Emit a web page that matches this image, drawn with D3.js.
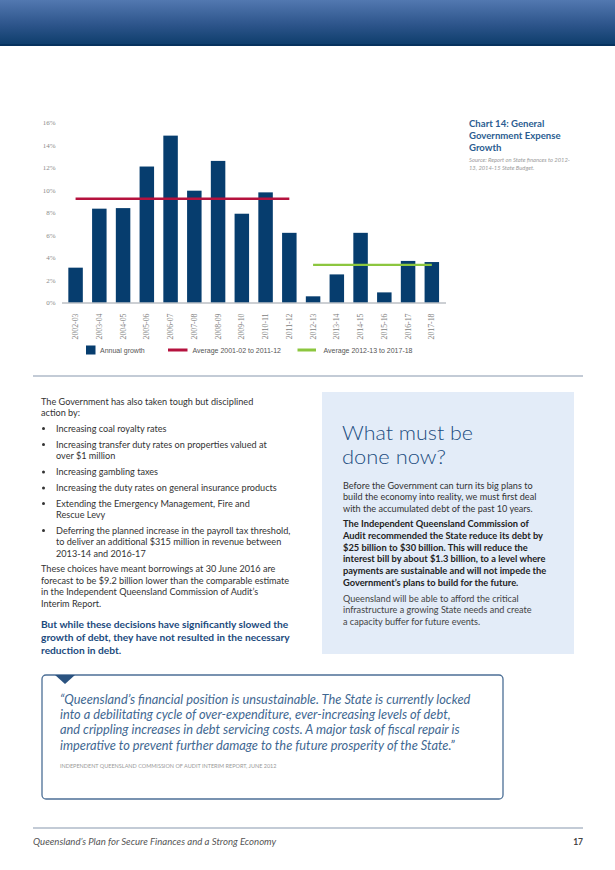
<!DOCTYPE html>
<html><head><meta charset="utf-8">
<script src="https://cdn.jsdelivr.net/npm/d3@7"></script>
<style>
html,body{margin:0;padding:0;background:#fff;}
svg{display:block;}
</style></head>
<body>
<script>
const categories = ["2002-03","2003-04","2004-05","2005-06","2006-07","2007-08","2008-09","2009-10","2010-11","2011-12","2012-13","2013-14","2014-15","2015-16","2016-17","2017-18"];
const annualGrowth = [3.1, 8.35, 8.4, 12.1, 14.85, 9.95, 12.6, 7.9, 9.8, 6.2, 0.55, 2.5, 6.2, 0.9, 3.7, 3.6];
const averageEarly = 9.23;   // Average 2001-02 to 2011-12
const averageEarlyRange = ["2002-03","2011-12"];
const averageLate = 3.34;    // Average 2012-13 to 2017-18
const averageLateRange = ["2012-13","2017-18"];
const yTicks = [0,2,4,6,8,10,12,14,16];
const legendLabels = ["Annual growth","Average 2001-02 to 2011-12","Average 2012-13 to 2017-18"];

const W = 615, H = 870;
const svg = d3.select("body").append("svg").attr("width", W).attr("height", H);
const defs = svg.append("defs");
const grad = defs.append("linearGradient").attr("id","hdr").attr("x1",0).attr("y1",0).attr("x2",0).attr("y2",1);
grad.append("stop").attr("offset","0%").attr("stop-color","#5278b0");
grad.append("stop").attr("offset","55%").attr("stop-color","#2c548a");
grad.append("stop").attr("offset","100%").attr("stop-color","#0c3c6a");

// Header band
svg.append("rect").attr("x",0).attr("y",0).attr("width",W).attr("height",46).attr("fill","url(#hdr)");
svg.append("rect").attr("x",0).attr("y",44).attr("width",W).attr("height",2).attr("fill","#07325e");

// ---------- Chart ----------
const BAR = "#063d6e", RED = "#b5123e", GREEN = "#8cc63f";
const x = d3.scaleBand().domain(categories).range([63.7, 443.7]).paddingInner(0.39).paddingOuter(0.195);
const y = d3.scaleLinear().domain([0,16]).range([302.5, 122.7]);
const g = svg.append("g");

// y axis labels
const yAxis = d3.axisLeft(y).tickValues(yTicks).tickFormat(d => d + "%").tickSize(0).tickPadding(0);
const ya = g.append("g").attr("transform","translate(55.5,0)").call(yAxis);
ya.select(".domain").remove();
ya.selectAll("text").attr("font-family","'Liberation Serif', serif").attr("font-size",7).attr("fill","#8a8a8a");

// bars
g.selectAll("rect.bar").data(annualGrowth).join("rect").attr("class","bar")
  .attr("x",(d,i)=>x(categories[i])).attr("width",x.bandwidth())
  .attr("y",d=>y(d)).attr("height",d=>y(0)-y(d)).attr("fill",BAR);

// baseline
g.append("line").attr("x1",62).attr("x2",446).attr("y1",y(0)+0.5).attr("y2",y(0)+0.5)
  .attr("stroke","#9aa0a8").attr("stroke-width",1);

// x axis labels
const xAxis = d3.axisBottom(x).tickSize(0).tickPadding(0);
const xa = g.append("g").attr("transform",`translate(0,${y(0)})`).call(xAxis);
xa.select(".domain").remove();
xa.selectAll("text").attr("font-family","'Liberation Serif', serif").attr("font-size",7.8).attr("fill","#7d7d7d")
  .attr("transform","translate(0,11) rotate(-90)").attr("text-anchor","end").attr("dy","0.32em").attr("x",0).attr("y",0);

// average lines
const cx = c => x(c) + x.bandwidth()/2;
g.append("line").attr("x1",cx(averageEarlyRange[0])).attr("x2",cx(averageEarlyRange[1]))
  .attr("y1",y(averageEarly)).attr("y2",y(averageEarly)).attr("stroke",RED).attr("stroke-width",2.6);
g.append("line").attr("x1",cx(averageLateRange[0])).attr("x2",cx(averageLateRange[1]))
  .attr("y1",y(averageLate)).attr("y2",y(averageLate)).attr("stroke",GREEN).attr("stroke-width",2.2);

// legend
const lg = g.append("g").attr("font-family","'Liberation Sans', sans-serif").attr("font-size",7).attr("fill","#555");
lg.append("rect").attr("x",86).attr("y",345.5).attr("width",9.5).attr("height",9).attr("fill",BAR);
lg.append("text").attr("x",100).attr("y",352.5).text(legendLabels[0]);
lg.append("line").attr("x1",168).attr("x2",187.5).attr("y1",350).attr("y2",350).attr("stroke",RED).attr("stroke-width",3);
lg.append("text").attr("x",192.5).attr("y",352.5).text(legendLabels[1]);
lg.append("line").attr("x1",297.5).attr("x2",316).attr("y1",350).attr("y2",350).attr("stroke",GREEN).attr("stroke-width",3);
lg.append("text").attr("x",323.5).attr("y",352.5).text(legendLabels[2]);

// chart title
const tg = svg.append("g").attr("font-family","Lato, sans-serif");
["Chart 14: General","Government Expense","Growth"].forEach((t,i)=>{
  tg.append("text").attr("x",469).attr("y",127+i*12).attr("font-size",9.6).attr("font-weight",700).attr("fill","#2b5d91").text(t);
});
["Source: Report on State finances to 2012-","13, 2014-15 State Budget."].forEach((t,i)=>{
  tg.append("text").attr("x",469).attr("y",162+i*8).attr("font-size",5.8).attr("font-style","italic").attr("fill","#9a9a9a").text(t);
});

// separator
svg.append("rect").attr("x",33).attr("y",375).attr("width",550).attr("height",2).attr("fill","#c3cbd6");

// ---------- Left column text ----------
const body = svg.append("g").attr("font-family","Lato, sans-serif").attr("font-size",9.15).attr("fill","#333");
const plain = [
  ["The Government has also taken tough but disciplined",41,404.5],
  ["action by:",41,416],
];
const bullets = [
  [["Increasing coal royalty rates"],431.5],
  [["Increasing transfer duty rates on properties valued at","over $1 million"],447.5],
  [["Increasing gambling taxes"],475],
  [["Increasing the duty rates on general insurance products"],491],
  [["Extending the Emergency Management, Fire and","Rescue Levy"],506.5],
  [["Deferring the planned increase in the payroll tax threshold,","to deliver an additional $315 million in revenue between","2013-14 and 2016-17"],533.5]
];
plain.forEach(([t,xx,yy])=>body.append("text").attr("x",xx).attr("y",yy).text(t));
bullets.forEach(([lines,yy])=>{
  body.append("circle").attr("cx",43.5).attr("cy",yy-3).attr("r",1.5).attr("fill","#333");
  lines.forEach((t,i)=>body.append("text").attr("x",56).attr("y",yy+i*11.5).text(t));
});
["These choices have meant borrowings at 30 June 2016 are","forecast to be $9.2 billion lower than the comparable estimate","in the Independent Queensland Commission of Audit\u2019s","Interim Report."]
  .forEach((t,i)=>body.append("text").attr("x",41).attr("y",572+i*11.7).text(t));
["But while these decisions have significantly slowed the","growth of debt, they have not resulted in the necessary","reduction in debt."]
  .forEach((t,i)=>body.append("text").attr("x",41).attr("y",627.5+i*13).attr("font-weight",700).attr("font-size",10.2).attr("fill","#1b4a7d").text(t));

// ---------- Right box ----------
svg.append("rect").attr("x",322).attr("y",392).attr("width",252).attr("height",262).attr("fill","#e3ecf8");
const rb = svg.append("g").attr("font-family","Lato, sans-serif");
rb.append("text").attr("font-size",20).attr("font-weight",300).attr("fill","#1c4c7f")
  .attr("x",342).attr("y",439.5).attr("textLength",131).attr("lengthAdjust","spacingAndGlyphs").text("What must be");
rb.append("text").attr("font-size",20).attr("font-weight",300).attr("fill","#1c4c7f")
  .attr("x",342).attr("y",464).attr("textLength",104).attr("lengthAdjust","spacingAndGlyphs").text("done now?");
["Before the Government can turn its big plans to","build the economy into reality, we must first deal","with the accumulated debt of the past 10 years."]
  .forEach((t,i)=>rb.append("text").attr("x",343).attr("y",488.5+i*11.8).attr("font-size",9.1).attr("fill","#333").text(t));
["The Independent Queensland Commission of","Audit recommended the State reduce its debt by","$25 billion to $30 billion. This will reduce the","interest bill by about $1.3 billion, to a level where","payments are sustainable and will not impede the","Government\u2019s plans to build for the future."]
  .forEach((t,i)=>rb.append("text").attr("x",343).attr("y",527+i*11.8).attr("font-size",9.3).attr("font-weight",700).attr("fill","#222").text(t));
["Queensland will be able to afford the critical","infrastructure a growing State needs and create","a capacity buffer for future events."]
  .forEach((t,i)=>rb.append("text").attr("x",343).attr("y",601.5+i*11.8).attr("font-size",9.1).attr("fill","#444").text(t));

// ---------- Quote box ----------
svg.append("rect").attr("x",42).attr("y",675).attr("width",461).attr("height",124).attr("rx",4)
  .attr("fill","#fff").attr("stroke","#4c6f96").attr("stroke-width",1.3);
svg.append("path").attr("d","M55,675 L75,675 L65,684 Z").attr("fill","#2b5380");
const qg = svg.append("g").attr("font-family","Lato, sans-serif").attr("font-style","italic").attr("font-size",12.8).attr("fill","#3f6892");
["\u201CQueensland\u2019s financial position is unsustainable. The State is currently locked","into a debilitating cycle of over-expenditure, ever-increasing levels of debt,","and crippling increases in debt servicing costs. A major task of fiscal repair is","imperative to prevent further damage to the future prosperity of the State.\u201D"]
  .forEach((t,i)=>qg.append("text").attr("x",60).attr("y",704+i*15.2).text(t));
svg.append("text").attr("x",60).attr("y",767.5).attr("font-family","Lato, sans-serif").attr("font-size",5.5).attr("fill","#9a9a9a")
  .text("INDEPENDENT QUEENSLAND COMMISSION OF AUDIT INTERIM REPORT, JUNE 2012");

// ---------- Footer ----------
svg.append("rect").attr("x",33).attr("y",827).attr("width",550).attr("height",2).attr("fill","#c3cbd6");
svg.append("text").attr("x",33).attr("y",845).attr("font-family","Lato, sans-serif").attr("font-style","italic").attr("font-size",9.6).attr("fill","#555")
  .text("Queensland\u2019s Plan for Secure Finances and a Strong Economy");
svg.append("text").attr("x",583).attr("y",845).attr("text-anchor","end").attr("font-family","Lato, sans-serif").attr("font-weight",700).attr("font-size",8.5).attr("fill","#444").text("17");
</script>
</body></html>
